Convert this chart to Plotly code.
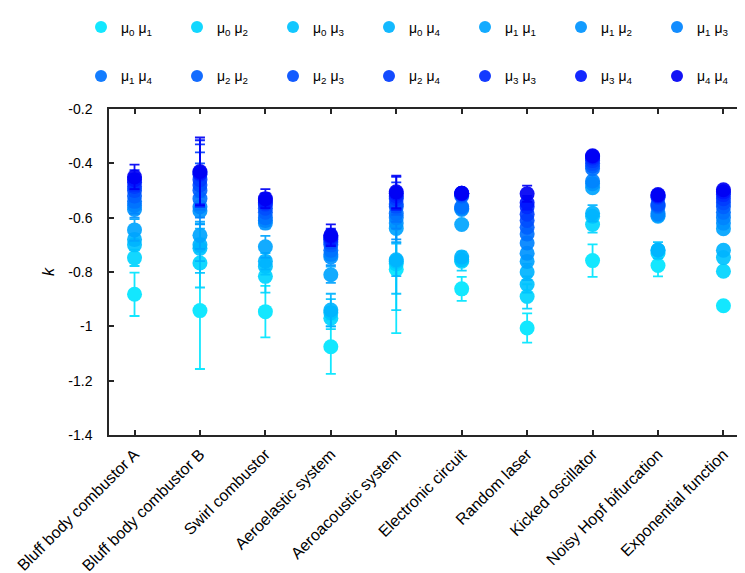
import plotly.graph_objects as go

categories = ["Bluff body combustor A", "Bluff body combustor B", "Swirl combustor",
              "Aeroelastic system", "Aeroacoustic system", "Electronic circuit",
              "Random laser", "Kicked oscillator", "Noisy Hopf bifurcation",
              "Exponential function"]

series_names = ["μ<sub>0</sub> μ<sub>1</sub>", "μ<sub>0</sub> μ<sub>2</sub>",
                "μ<sub>0</sub> μ<sub>3</sub>", "μ<sub>0</sub> μ<sub>4</sub>",
                "μ<sub>1</sub> μ<sub>1</sub>", "μ<sub>1</sub> μ<sub>2</sub>",
                "μ<sub>1</sub> μ<sub>3</sub>", "μ<sub>1</sub> μ<sub>4</sub>",
                "μ<sub>2</sub> μ<sub>2</sub>", "μ<sub>2</sub> μ<sub>3</sub>",
                "μ<sub>2</sub> μ<sub>4</sub>", "μ<sub>3</sub> μ<sub>3</sub>",
                "μ<sub>3</sub> μ<sub>4</sub>", "μ<sub>4</sub> μ<sub>4</sub>"]

# k values per series, one entry per category (same order as categories)
k_m0m1 = [-0.882, -0.942, -0.946, -1.075, -0.790, -0.862, -1.006, -0.758, -0.776, -0.924]
k_m0m2 = [-0.748, -0.767, -0.816, -0.970, -0.770, -0.760, -0.890, -0.625, -0.730, -0.797]
k_m0m3 = [-0.700, -0.713, -0.780, -0.950, -0.760, -0.755, -0.846, -0.595, -0.720, -0.747]
k_m0m4 = [-0.680, -0.700, -0.760, -0.940, -0.755, -0.745, -0.800, -0.584, -0.719, -0.720]
k_m1m1 = [-0.645, -0.665, -0.707, -0.810, -0.640, -0.625, -0.761, -0.490, -0.595, -0.641]
k_m1m2 = [-0.570, -0.575, -0.620, -0.745, -0.620, -0.570, -0.731, -0.475, -0.590, -0.620]
k_m1m3 = [-0.555, -0.560, -0.610, -0.735, -0.600, -0.565, -0.693, -0.465, -0.585, -0.600]
k_m1m4 = [-0.540, -0.530, -0.600, -0.720, -0.585, -0.560, -0.660, -0.420, -0.560, -0.580]
k_m2m2 = [-0.520, -0.500, -0.580, -0.700, -0.560, -0.520, -0.635, -0.410, -0.555, -0.560]
k_m2m3 = [-0.500, -0.480, -0.565, -0.690, -0.550, -0.515, -0.610, -0.400, -0.550, -0.545]
k_m2m4 = [-0.485, -0.460, -0.550, -0.680, -0.530, -0.512, -0.587, -0.390, -0.525, -0.530]
k_m3m3 = [-0.470, -0.440, -0.545, -0.675, -0.520, -0.510, -0.560, -0.380, -0.520, -0.515]
k_m3m4 = [-0.460, -0.435, -0.535, -0.670, -0.510, -0.510, -0.545, -0.375, -0.518, -0.505]
k_m4m4 = [-0.450, -0.430, -0.530, -0.665, -0.505, -0.510, -0.512, -0.372, -0.515, -0.497]

# error bar half-lengths
e_m0m1 = [0.080, 0.215, 0.095, 0.100, 0.235, 0.044, 0.054, 0.060, 0.040, 0.000]
e_m0m2 = [0.030, 0.090, 0.060, 0.040, 0.170, 0.035, 0.045, 0.030, 0.010, 0.000]
e_m0m3 = [0.020, 0.090, 0.030, 0.050, 0.120, 0.010, 0.030, 0.010, 0.030, 0.000]
e_m0m4 = [0.020, 0.060, 0.030, 0.060, 0.060, 0.010, 0.030, 0.030, 0.010, 0.000]
e_m1m1 = [0.040, 0.050, 0.040, 0.030, 0.050, 0.005, 0.020, 0.010, 0.005, 0.000]
e_m1m2 = [0.030, 0.050, 0.020, 0.030, 0.060, 0.005, 0.020, 0.010, 0.005, 0.000]
e_m1m3 = [0.030, 0.040, 0.020, 0.020, 0.040, 0.005, 0.020, 0.005, 0.005, 0.000]
e_m1m4 = [0.020, 0.040, 0.020, 0.020, 0.030, 0.005, 0.020, 0.005, 0.005, 0.000]
e_m2m2 = [0.020, 0.060, 0.010, 0.020, 0.030, 0.005, 0.015, 0.005, 0.005, 0.000]
e_m2m3 = [0.020, 0.080, 0.010, 0.020, 0.030, 0.005, 0.015, 0.005, 0.005, 0.000]
e_m2m4 = [0.020, 0.100, 0.010, 0.020, 0.040, 0.005, 0.015, 0.005, 0.005, 0.000]
e_m3m3 = [0.030, 0.110, 0.020, 0.030, 0.050, 0.005, 0.020, 0.005, 0.005, 0.000]
e_m3m4 = [0.035, 0.120, 0.025, 0.030, 0.060, 0.005, 0.025, 0.005, 0.005, 0.000]
e_m4m4 = [0.045, 0.125, 0.035, 0.040, 0.060, 0.005, 0.030, 0.005, 0.005, 0.000]

k_all = [k_m0m1, k_m0m2, k_m0m3, k_m0m4, k_m1m1, k_m1m2, k_m1m3,
         k_m1m4, k_m2m2, k_m2m3, k_m2m4, k_m3m3, k_m3m4, k_m4m4]
e_all = [e_m0m1, e_m0m2, e_m0m3, e_m0m4, e_m1m1, e_m1m2, e_m1m3,
         e_m1m4, e_m2m2, e_m2m3, e_m2m4, e_m3m3, e_m3m4, e_m4m4]

y_tickvals = [-1.4, -1.2, -1.0, -0.8, -0.6, -0.4, -0.2]
y_ticktext = ["-1.4", "-1.2", "-1", "-0.8", "-0.6", "-0.4", "-0.2"]

colors = ["#00e6ff", "#00d4ff", "#00c3ff", "#00b4ff", "#00a4ff", "#0094ff", "#0084ff",
          "#0072ff", "#0060ff", "#004eff", "#003cff", "#002aff", "#0016ff", "#0000f5"]

fig = go.Figure()
for i in range(len(series_names)):
    fig.add_trace(go.Scatter(
        x=categories, y=k_all[i],
        mode="markers",
        name=series_names[i],
        marker=dict(color=colors[i], size=15),
        error_y=dict(type="data", array=e_all[i], color=colors[i],
                     thickness=1.8, width=5),
        opacity=0.92,
        legend="legend" if i < 7 else "legend2",
    ))

font = "Liberation Sans, Arial, Helvetica, sans-serif"
legend_style = dict(orientation="h", xanchor="left", yanchor="middle",
                    entrywidth=51, entrywidthmode="pixels",
                    font=dict(size=14, color="black", family=font),
                    bgcolor="rgba(0,0,0,0)", itemsizing="constant")

fig.update_layout(
    width=745, height=573,
    plot_bgcolor="white", paper_bgcolor="white",
    margin=dict(l=101, r=4, t=94.5, b=146),
    font=dict(family=font, size=13, color="black"),
    showlegend=True,
    legend=dict(x=-0.025, y=1.25, **legend_style),
    legend2=dict(x=-0.025, y=1.10, **legend_style),
    xaxis=dict(
        type="category", range=[-0.39, 9.36],
        showline=True, linecolor="#262626", linewidth=1.5, mirror="ticks",
        ticks="inside", ticklen=5, tickcolor="#262626", tickwidth=1.5,
        tickangle=-45, showgrid=False, zeroline=False,
        tickfont=dict(size=16), ticklabelstandoff=2,
    ),
    yaxis=dict(
        range=[-1.4, -0.2], tickvals=y_tickvals, ticktext=y_ticktext,
        showline=True, linecolor="#262626", linewidth=1.5, mirror="ticks",
        ticks="inside", ticklen=5, tickcolor="#262626", tickwidth=1.5,
        showgrid=False, zeroline=False, tickfont=dict(size=14),
        ticklabelstandoff=12,
        title=dict(text="<i>k</i>", standoff=10),
    ),
)

fig.write_html("out.html")
